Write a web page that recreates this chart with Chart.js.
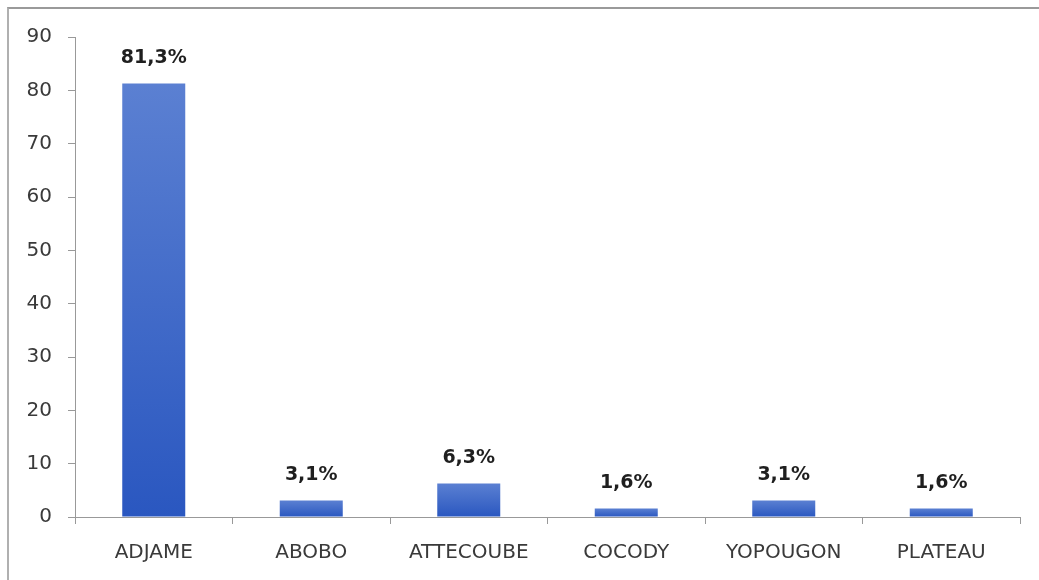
<!DOCTYPE html>
<html>
<head>
<meta charset="utf-8">
<script src="https://cdn.jsdelivr.net/npm/chart.js@4/dist/chart.umd.min.js"></script>
<style>
  html, body { margin: 0; padding: 0; background: #fff; }
  #wrap { position: relative; width: 1039px; height: 580px; overflow: hidden; }
  #frame { position: absolute; left: 7px; top: 7px; width: 1040px; height: 600px;
           border-top: 2px solid #9a9a9a; border-left: 2px solid #b0b0b0; }
  #salesChart { position: absolute; left: 0; top: 0; }
</style>
</head>
<body>
<div id="wrap">
  <div id="frame"></div>
  <canvas id="salesChart" width="1039" height="580"></canvas>
</div>
<script>
var communes = ["ADJAME", "ABOBO", "ATTECOUBE", "COCODY", "YOPOUGON", "PLATEAU"];
var percents = [81.3, 3.1, 6.3, 1.6, 3.1, 1.6];
var percentLabels = ["81,3%", "3,1%", "6,3%", "1,6%", "3,1%", "1,6%"];
var yTicks = [0, 10, 20, 30, 40, 50, 60, 70, 80, 90];

// per-bar vertical gradient, lighter on top
function barFill(context) {
  var chart = context.chart;
  if (!chart.chartArea || context.dataIndex === undefined) return "#3a66c8";
  var y = chart.scales.y;
  var top = y.getPixelForValue(context.raw);
  var bottom = y.getPixelForValue(0);
  var g = chart.ctx.createLinearGradient(0, top, 0, bottom);
  g.addColorStop(0, "#5b80d2");
  g.addColorStop(1, "#2a57c0");
  return g;
}

var valueLabels = {
  id: "valueLabels",
  afterDatasetsDraw: function(chart) {
    var ctx = chart.ctx;
    var meta = chart.getDatasetMeta(0);
    ctx.save();
    ctx.font = "bold 19px 'DejaVu Sans'";
    ctx.fillStyle = "#1f1f1f";
    ctx.textAlign = "center";
    ctx.textBaseline = "bottom";
    meta.data.forEach(function(bar, i) {
      ctx.fillText(percentLabels[i], bar.x, bar.y - 16);
    });
    ctx.restore();
  }
};

var ctx = document.getElementById("salesChart");
new Chart(ctx, {
  type: "bar",
  data: {
    labels: communes,
    datasets: [{
      data: percents,
      backgroundColor: barFill,
      borderWidth: 0,
      barPercentage: 0.4,
      categoryPercentage: 1.0
    }]
  },
  options: {
    responsive: false,
    animation: false,
    layout: { padding: { left: 0, right: 19, top: 37, bottom: 0 } },
    plugins: { legend: { display: false }, tooltip: { enabled: false } },
    scales: {
      x: {
        offset: true,
        grid: {
          offset: true,
          drawOnChartArea: false,
          drawTicks: true,
          tickLength: 7,
          color: "#999999"
        },
        border: { color: "#999999", width: 1 },
        ticks: {
          color: "#3a3a3a",
          font: { family: "'DejaVu Sans'", size: 20 },
          padding: 17
        },
        afterFit: function(scale) { scale.height = 63; }
      },
      y: {
        min: 0,
        max: 90,
        afterBuildTicks: function(scale) {
          scale.ticks = yTicks.map(function(v) { return { value: v }; });
        },
        grid: {
          drawOnChartArea: false,
          drawTicks: true,
          tickLength: 7,
          color: "#999999"
        },
        border: { color: "#999999", width: 1 },
        ticks: {
          color: "#3a3a3a",
          font: { family: "'DejaVu Sans'", size: 20 },
          padding: 16
        },
        afterFit: function(scale) { scale.width = 75; }
      }
    }
  },
  plugins: [valueLabels]
});
</script>
</body>
</html>
